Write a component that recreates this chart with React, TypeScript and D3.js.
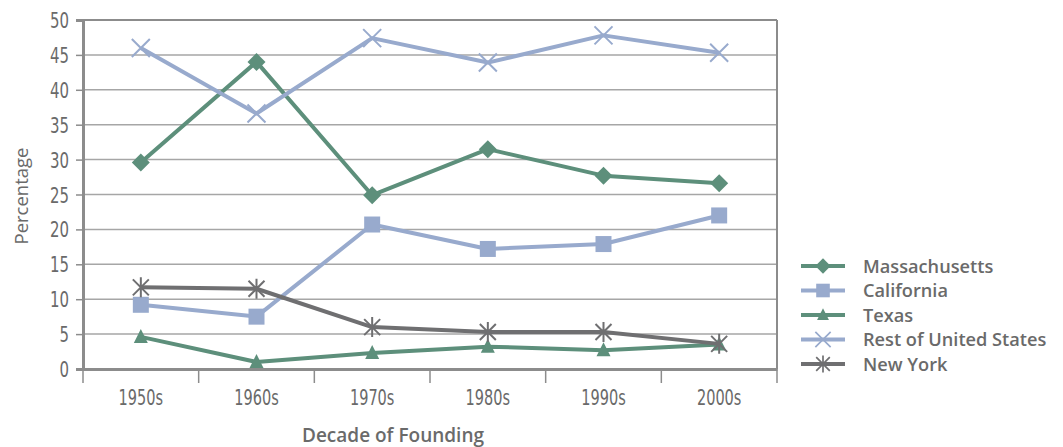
import React, { useEffect, useRef } from "react";
import * as d3 from "d3";

const decades = ["1950s", "1960s", "1970s", "1980s", "1990s", "2000s"];
const yTicks = [0, 5, 10, 15, 20, 25, 30, 35, 40, 45, 50];

const massachusetts = [29.6, 44.0, 24.9, 31.5, 27.7, 26.6];
const california = [9.2, 7.5, 20.7, 17.2, 17.9, 22.0];
const texas = [4.6, 1.0, 2.3, 3.2, 2.7, 3.5];
const restOfUS = [46.0, 36.6, 47.4, 43.9, 47.8, 45.3];
const newYork = [11.7, 11.5, 6.0, 5.3, 5.3, 3.6];

const seriesNames = ["Massachusetts", "California", "Texas", "Rest of United States", "New York"];

const GREEN = "#5d8f7b";
const BLUE = "#98aacd";
const GREY = "#6f6f71";

const series = [
  { name: seriesNames[0], values: massachusetts, color: GREEN, marker: "diamond" },
  { name: seriesNames[1], values: california, color: BLUE, marker: "square" },
  { name: seriesNames[2], values: texas, color: GREEN, marker: "triangle" },
  { name: seriesNames[3], values: restOfUS, color: BLUE, marker: "x" },
  { name: seriesNames[4], values: newYork, color: GREY, marker: "star" },
];

const tickFont = "'DejaVu Sans', sans-serif";
const sans = "'Open Sans', 'Lato', sans-serif";

// draws one marker centred on 0,0 in group g
const drawMarker = (g, type, color) => {
  if (type === "diamond") {
    g.append("path").attr("d", "M0,-9L9,0L0,9L-9,0Z").attr("fill", color);
  } else if (type === "square") {
    g.append("rect").attr("x", -8).attr("y", -8).attr("width", 16).attr("height", 16).attr("fill", color);
  } else if (type === "triangle") {
    g.append("path").attr("d", "M0,-8L7,6L-7,6Z").attr("fill", color);
  } else if (type === "x") {
    g.append("path").attr("d", "M-9,-9L9,9M-9,9L9,-9").attr("stroke", color).attr("stroke-width", 2);
  } else if (type === "star") {
    g.append("path")
      .attr("d", "M-8,-8L8,8M-8,8L8,-8M0,-10L0,10")
      .attr("stroke", color).attr("stroke-width", 2);
  }
};

export default function App() {
  const ref = useRef(null);

  useEffect(() => {
    const svg = d3.select(ref.current);
    svg.selectAll("*").remove();

    const left = 83, right = 777, top = 20, bottom = 369;

    const x = d3.scaleBand().domain(decades).range([left, right]);
    const y = d3.scaleLinear().domain([0, 50]).range([bottom, top]);

    // grid
    svg.append("g").selectAll("line")
      .data(yTicks.filter(d => d > 0)).enter()
      .append("line")
      .attr("x1", left).attr("x2", right)
      .attr("y1", d => y(d)).attr("y2", d => y(d))
      .attr("stroke", "#a6a6a6").attr("stroke-width", 1.5);

    // box top/right
    svg.append("line").attr("x1", left).attr("x2", right).attr("y1", top).attr("y2", top)
      .attr("stroke", "#8c8c8c").attr("stroke-width", 2);
    svg.append("line").attr("x1", right).attr("x2", right).attr("y1", top).attr("y2", bottom)
      .attr("stroke", "#8c8c8c").attr("stroke-width", 2);

    // y axis
    const yAxis = svg.append("g")
      .attr("transform", `translate(${left},0)`)
      .call(d3.axisLeft(y).tickValues(yTicks).tickSize(7).tickFormat(""));
    yAxis.select(".domain").attr("stroke", "#8c8c8c").attr("stroke-width", 3);
    yAxis.selectAll(".tick line").attr("stroke", "#8c8c8c").attr("stroke-width", 1.5);
    // condensed tick labels
    svg.append("g").selectAll("text")
      .data(yTicks).enter()
      .append("text")
      .attr("transform", d => `translate(69,${y(d) + 8}) scale(0.68,1)`)
      .attr("text-anchor", "end")
      .attr("font-family", tickFont).attr("font-size", 22).attr("fill", "#6a6a6a")
      .text(d => d);

    // x axis
    const xAxis = svg.append("g")
      .attr("transform", `translate(0,${bottom})`)
      .call(d3.axisBottom(x).tickSize(0).tickFormat(""));
    xAxis.select(".domain").attr("stroke", "#8c8c8c").attr("stroke-width", 3);
    svg.append("g").selectAll("text")
      .data(decades).enter()
      .append("text")
      .attr("transform", d => `translate(${x(d) + x.bandwidth() / 2},${bottom + 36}) scale(0.66,1)`)
      .attr("text-anchor", "middle")
      .attr("font-family", tickFont).attr("font-size", 22).attr("fill", "#6a6a6a")
      .text(d => d);
    // boundary ticks between bands
    svg.append("g").selectAll("line")
      .data(decades.concat(["end"])).enter()
      .append("line")
      .attr("x1", (d, i) => left + i * x.step()).attr("x2", (d, i) => left + i * x.step())
      .attr("y1", bottom).attr("y2", bottom + 14)
      .attr("stroke", "#8c8c8c").attr("stroke-width", 1.5);

    // titles
    svg.append("text")
      .attr("transform", "translate(28,196) rotate(-90)")
      .attr("text-anchor", "middle")
      .attr("font-family", sans).attr("font-size", 18.5).attr("fill", "#6a6a6a")
      .text("Percentage");
    svg.append("text")
      .attr("x", 393).attr("y", 442)
      .attr("text-anchor", "middle")
      .attr("font-family", sans).attr("font-size", 19).attr("font-weight", 600).attr("fill", "#6a6a6a")
      .text("Decade of Founding");

    const cx = d => x(d) + x.bandwidth() / 2;
    const line = d3.line().x(d => cx(d[0])).y(d => y(d[1]));

    series.forEach(s => {
      const pts = decades.map((d, i) => [d, s.values[i]]);
      svg.append("path")
        .datum(pts)
        .attr("d", line)
        .attr("fill", "none")
        .attr("stroke", s.color)
        .attr("stroke-width", 4)
        .attr("stroke-linejoin", "round");
      pts.forEach(p => {
        const g = svg.append("g").attr("transform", `translate(${cx(p[0])},${y(p[1])})`);
        drawMarker(g, s.marker, s.color);
      });
    });

    // legend
    const legend = svg.append("g");
    series.forEach((s, i) => {
      const ly = 266 + i * 24.5;
      legend.append("line")
        .attr("x1", 801).attr("x2", 845).attr("y1", ly).attr("y2", ly)
        .attr("stroke", s.color).attr("stroke-width", 4);
      const g = legend.append("g").attr("transform", `translate(823,${ly}) scale(0.85)`);
      drawMarker(g, s.marker, s.color);
      legend.append("text")
        .attr("x", 863).attr("y", ly + 6.5)
        .attr("font-family", sans).attr("font-size", 18.2).attr("font-weight", 600).attr("fill", "#6a6a6a")
        .text(s.name);
    });
  }, []);

  return (
    <svg
      ref={ref}
      width={1063}
      height={447}
      style={{ position: "absolute", left: 0, top: 0, background: "#fff" }}
    />
  );
}
